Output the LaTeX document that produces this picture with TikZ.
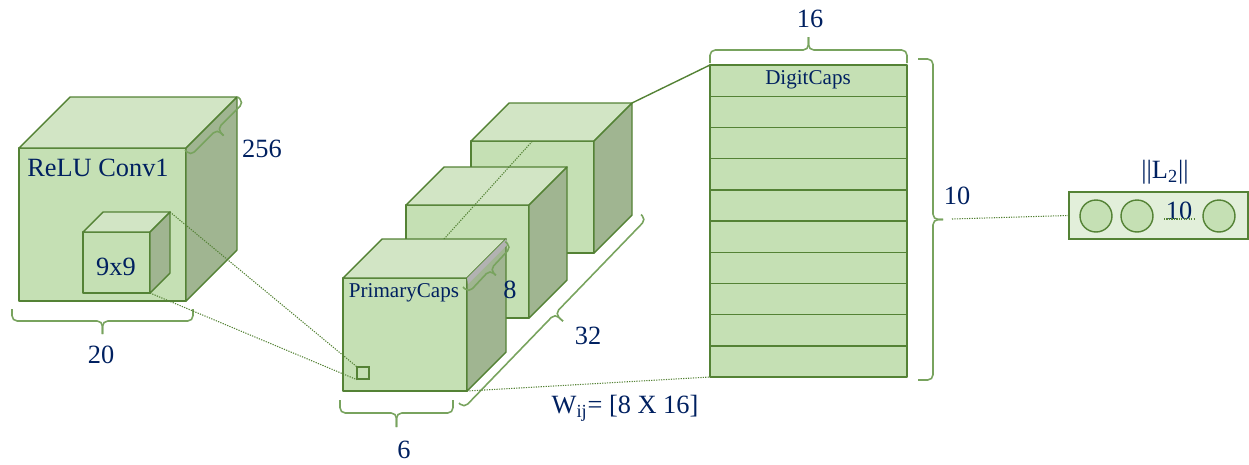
\documentclass[tikz,border=0pt]{standalone}
\usepackage{fontspec}
\setmainfont{Liberation Serif}
\usetikzlibrary{calc}
\tikzstyle{capsNet} = [x = 0.02cm, y = -0.02cm]
\definecolor{edgeColor}{RGB}{84,130,53}
\definecolor{braceColor}{RGB}{120,163,94}
\definecolor{frontColor}{RGB}{197,224,180}
\definecolor{topColor}{RGB}{210,229,197}
\definecolor{sideColor}{RGB}{160,181,145}
\definecolor{outColor}{RGB}{226,239,218}
\definecolor{labelColor}{RGB}{0,32,96}
\tikzstyle{frontFace} = [fill=frontColor, draw=edgeColor, line width=0.8pt, line join=round]
\tikzstyle{topFace} = [frontFace, fill=topColor]
\tikzstyle{sideFace} = [frontFace, fill=sideColor]
\tikzstyle{braceLine} = [draw=braceColor, line width=0.9pt, rounded corners=3pt]
\tikzstyle{dottedLink} = [draw=edgeColor, line width=0.6pt, dash pattern=on 0.7pt off 0.7pt]
\tikzstyle{bigLabel} = [text=labelColor, font=\fontsize{15}{18}\selectfont, inner sep=0pt]
\tikzstyle{smallLabel} = [text=labelColor, font=\fontsize{12}{14}\selectfont, inner sep=0pt]
\tikzstyle{unitCircle} = [circle, fill=frontColor, draw=edgeColor, line width=0.8pt, minimum size=0.64cm, inner sep=0pt]
% cube: name, x, y of the front top left corner, width, height, depth
\newcommand{\cube}[6]{
  \coordinate (#1-ftl) at (#2, #3);
  \coordinate (#1-ftr) at (#2 + #4, #3);
  \coordinate (#1-fbl) at (#2, #3 + #5);
  \coordinate (#1-fbr) at (#2 + #4, #3 + #5);
  \coordinate (#1-btl) at (#2 + #6, #3 - #6);
  \coordinate (#1-btr) at (#2 + #4 + #6, #3 - #6);
  \coordinate (#1-bbr) at (#2 + #4 + #6, #3 + #5 - #6);
  \filldraw [frontFace] (#1-ftl) rectangle (#1-fbr);
  \filldraw [topFace] (#1-ftl) -- (#1-btl) -- (#1-btr) -- (#1-ftr) -- cycle;
  \filldraw [sideFace] (#1-ftr) -- (#1-btr) -- (#1-bbr) -- (#1-fbr) -- cycle;
}
% bracket: x, y of one end, angle, length, hook, tip
\newcommand{\bracket}[6]{
  \begin{scope}[shift={(#1,#2)}, rotate=#3]
    \draw [braceLine] (0,0) -- (0,#5) -- (#4/2,#5) -- (#4/2,#5+#6);
    \draw [braceLine] (#4,0) -- (#4,#5) -- (#4/2,#5) -- (#4/2,#5+#6);
  \end{scope}
}

\begin{document}
\begin{tikzpicture}[capsNet]
  \useasboundingbox (0,0) rectangle (1249,464);

  % ReLU Conv1 layer with its 9x9 kernel
  \cube{relu}{19}{148}{167}{153}{51}
  \node [bigLabel, anchor=west] (reluText) at (27,168) {ReLU Conv1};
  \cube{kern}{83}{232}{67}{61}{20}
  \node [bigLabel] (kernText) at (116,267) {9x9};
  \bracket{185}{150}{45}{75}{8}{9}
  \node [bigLabel] (reluDepth) at (262,149) {256};
  \bracket{12}{309}{0}{181}{12}{13}
  \node [bigLabel] (reluWidth) at (101,355) {20};

  % PrimaryCaps stack
  \cube{pback}{471}{141}{123}{112}{38}
  \cube{pmid}{406}{205}{123}{113}{38}
  \cube{pfront}{343}{278}{124}{113}{39}
  \draw [dottedLink] ($(pfront-btl)!0.5!(pfront-btr)$) -- ($(pback-ftl)!0.5!(pback-ftr)$);
  \fill [gray!60] (pfront-ftr) -- (pfront-btr) -- ++(2,5) -- ($(pfront-ftr) + (1,6)$) -- cycle;
  \node [smallLabel] (primText) at (404,293) {PrimaryCaps};
  \bracket{463}{287}{47}{62}{8}{8}
  \node [bigLabel] (capsDim) at (510,290) {8};
  \bracket{459}{403}{46}{262}{7}{11}
  \node [bigLabel] (capsCount) at (588,336) {32};
  \bracket{340}{400}{0}{113}{13}{14}
  \node [bigLabel] (primWidth) at (404,450) {6};
  \node [rectangle, draw=edgeColor, line width=0.6pt, minimum size=0.24cm, inner sep=0pt] (kernel) at (363,373) {};
  \draw [dottedLink] (kern-btr) -- (kernel.north west);
  \draw [dottedLink] (kern-fbr) -- (kernel.south west);

  % DigitCaps, ten capsules of 16
  \coordinate (digit-tl) at (710,65);
  \coordinate (digit-bl) at (710,377);
  \filldraw [frontFace] (digit-tl) rectangle (907,377);
  \foreach \row in {1,...,9} {
    \draw [edgeColor, line width=0.8pt] (710,65 + \row * 31.2) -- +(197,0);
  }
  \node [smallLabel] (digitText) at (808,80) {DigitCaps};
  \bracket{710}{63}{0}{197}{-13}{-13}
  \node [bigLabel] (digitWidth) at (810,19) {16};
  \bracket{918}{380}{90}{321}{15}{10}
  \coordinate (tenTip) at (952,219);
  \node [bigLabel] (digitCount) at (957,196) {10};
  \draw [edgeColor, line width=0.8pt] (pback-btr) -- (digit-tl);
  \draw [dottedLink] (pfront-fbr) -- (digit-bl);
  \node [bigLabel] (weightText) at (625,408) {W\textsubscript{ij}= [8 X 16]};

  % length of each output vector
  \node [rectangle, fill=outColor, draw=edgeColor, line width=0.8pt, minimum width=3.58cm, minimum height=0.94cm] (outBox) at (1158.5,215.5) {};
  \node [unitCircle] (c1) at (1096,216) {};
  \node [unitCircle] (c2) at (1137,216) {};
  \node [unitCircle] (c3) at (1219,216) {};
  \node [bigLabel] (outCount) at (1179,211) {10};
  \draw [dottedLink] (1164,219) -- (1195,219);
  \node [bigLabel] (normText) at (1165,172) {||L\textsubscript{2}||};
  \draw [dottedLink] (tenTip) -- (outBox.west);
\end{tikzpicture}
\end{document}
